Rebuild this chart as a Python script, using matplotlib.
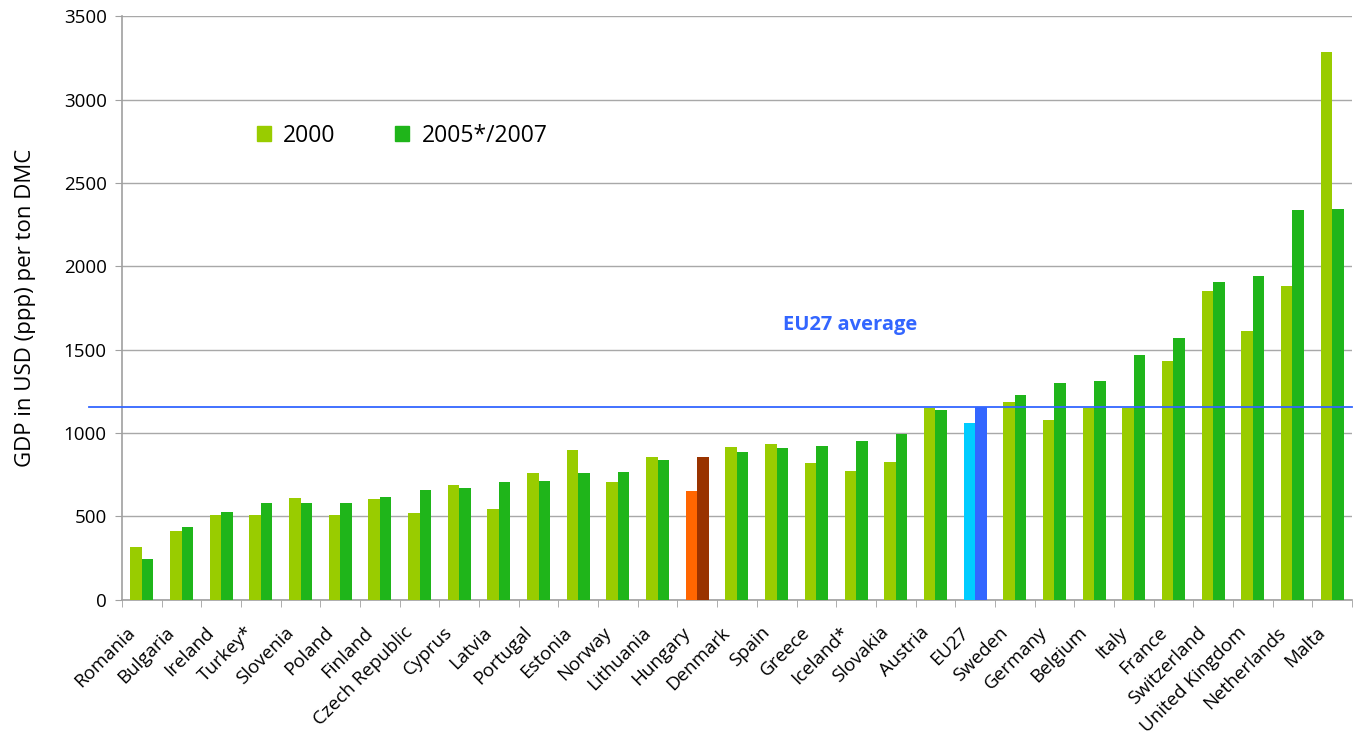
import numpy as np
import matplotlib
matplotlib.use("Agg")
import matplotlib.pyplot as plt
import matplotlib.transforms as mtransforms
from matplotlib.patches import Patch

countries = ["Romania", "Bulgaria", "Ireland", "Turkey*", "Slovenia", "Poland", "Finland",
             "Czech Republic", "Cyprus", "Latvia", "Portugal", "Estonia", "Norway", "Lithuania",
             "Hungary", "Denmark", "Spain", "Greece", "Iceland*", "Slovakia", "Austria", "EU27",
             "Sweden", "Germany", "Belgium", "Italy", "France", "Switzerland", "United Kingdom",
             "Netherlands", "Malta"]
gdp_2000 = [315, 410, 507, 507, 609, 507, 602, 519, 686, 542, 758, 896, 704, 854,
            650, 914, 932, 818, 770, 826, 1148, 1062, 1188, 1081, 1150, 1150, 1429,
            1852, 1610, 1881, 3285]
gdp_2007 = [244, 434, 524, 578, 583, 583, 614, 656, 668, 704, 710, 758, 764, 836,
            854, 884, 908, 920, 950, 994, 1136, 1155, 1226, 1298, 1310, 1467, 1569,
            1905, 1940, 2338, 2345]
eu27_average = 1155

c2000 = "#99CC00"
c2007 = "#1FB51A"
colors_2000 = [c2000] * len(countries)
colors_2007 = [c2007] * len(countries)
colors_2000[countries.index("Hungary")] = "#FF6600"
colors_2007[countries.index("Hungary")] = "#993300"
colors_2000[countries.index("EU27")] = "#00CCFF"
colors_2007[countries.index("EU27")] = "#3366FF"

plt.rcParams["font.family"] = ["Open Sans", "DejaVu Sans"]

fig = plt.figure(figsize=(13.57, 7.35), dpi=100)
ax = fig.add_axes([0.0899, 0.184, 0.9064, 0.794])

x = np.arange(len(countries))
w = 0.29
ax.bar(x - w / 2, gdp_2000, width=w, color=colors_2000, zorder=3)
ax.bar(x + w / 2, gdp_2007, width=w, color=colors_2007, zorder=3)

# EU27 average line, sticks out a bit to the left of the axis
ax.plot([-0.027, 1], [eu27_average, eu27_average], color="#3366FF", lw=1.3,
        transform=ax.get_yaxis_transform(), clip_on=False, zorder=4)
ax.text(17.85, 1650, "EU27 average", color="#3366FF", fontsize=14.5, fontweight="bold",
        ha="center", va="center")

ax.set_xlim(-0.5, len(countries) - 0.5)
ax.set_ylim(0, 3500)
ax.set_yticks(range(0, 3501, 500))
ax.tick_params(axis="y", labelsize=13.5, length=5, color="#A0A0A0", pad=6)
ax.yaxis.grid(True, color="#A8A8A8", lw=1, zorder=0)

ax.set_xticks(x)
ax.set_xticklabels(countries, rotation=45, ha="right", rotation_mode="anchor", fontsize=13.5)
ax.tick_params(axis="x", length=0, pad=17)
ax.set_xticks(np.arange(-0.5, len(countries), 1), minor=True)
ax.tick_params(axis="x", which="minor", length=5, color="#A0A0A0")
shift = mtransforms.ScaledTranslation(-16 / 100, 0, fig.dpi_scale_trans)
for lbl in ax.get_xticklabels():
    lbl.set_transform(lbl.get_transform() + shift)

for s in ["top", "right"]:
    ax.spines[s].set_visible(False)
for s in ["left", "bottom"]:
    ax.spines[s].set_color("#A0A0A0")
    ax.spines[s].set_linewidth(1.2)

ax.set_ylabel("GDP in USD (ppp) per ton DMC", fontsize=16, labelpad=20)

handles = [Patch(color=c2000, label="2000"), Patch(color=c2007, label="2005*/2007")]
ax.legend(handles=handles, loc="center left", bbox_to_anchor=(0.093, 0.795), ncol=2,
          frameon=False, fontsize=16.5, handlelength=0.6, handleheight=0.6,
          columnspacing=2.6, handletextpad=0.55)

fig.savefig("out.png", dpi=100)
